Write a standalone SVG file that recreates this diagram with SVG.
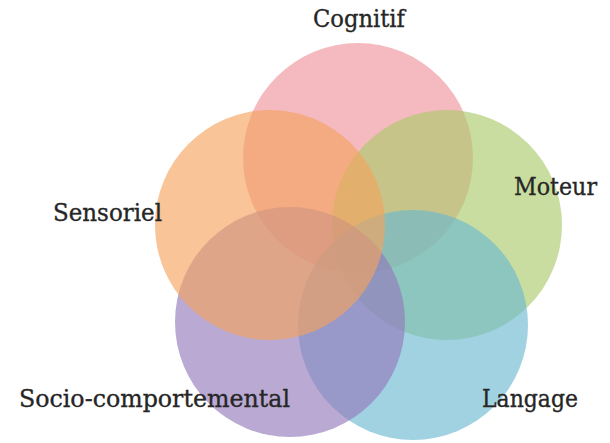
<svg xmlns="http://www.w3.org/2000/svg" width="610" height="443" viewBox="0 0 610 443">
<style>
.c{fill-opacity:0.64;stroke:none}
.t{font-family:"DejaVu Serif","Liberation Serif",serif;font-size:25px;fill:#262626;stroke:#262626;stroke-width:0.35}
</style>
<rect width="610" height="443" fill="#ffffff"/>
<g id="cognitif">
<circle class="c" cx="358" cy="158" r="115" fill="#ef939b"/>
<text class="t" x="313" y="27" textLength="92" lengthAdjust="spacingAndGlyphs">Cognitif</text>
</g>
<g id="moteur">
<circle class="c" cx="447" cy="225" r="115" fill="#abca6b"/>
<text class="t" x="514" y="195" textLength="83" lengthAdjust="spacingAndGlyphs">Moteur</text>
</g>
<g id="langage">
<circle class="c" cx="413" cy="325" r="115" fill="#6bb8d0"/>
<text class="t" x="482" y="407" textLength="96" lengthAdjust="spacingAndGlyphs">Langage</text>
</g>
<g id="socio">
<circle class="c" cx="290" cy="322" r="115" fill="#9379ba"/>
<text class="t" x="19" y="407" textLength="271" lengthAdjust="spacingAndGlyphs">Socio-comportemental</text>
</g>
<g id="sensoriel">
<circle class="c" cx="270" cy="225" r="115" fill="#f4a35e"/>
<text class="t" x="53" y="221" textLength="109" lengthAdjust="spacingAndGlyphs">Sensoriel</text>
</g>
<g id="connectors"></g>
</svg>
